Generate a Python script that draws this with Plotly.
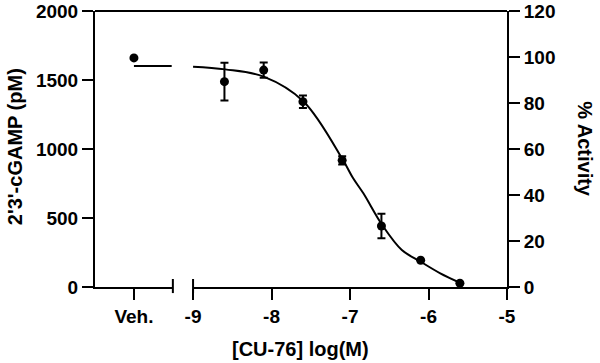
import plotly.graph_objects as go

# ---- data ----
veh_x = [0]
veh_y = [1660]
veh_line_x = [0, 0.97]
veh_line_y = [1601, 1601]

dose_log = [-8.6, -8.1, -7.6, -7.1, -6.6, -6.1, -5.6]
cgamp = [1488, 1572, 1343, 918, 442, 194, 27]
cgamp_err = [137, 55, 45, 30, 88, 0, 0]

fit_x = [-9.0, -8.59, -8.10, -7.59, -7.09, -6.96, -6.83, -6.59, -6.34, -6.10, -5.85, -5.60]
fit_y = [1596, 1577, 1524, 1343, 920, 788, 679, 449, 268, 183, 99, 31]

xticks2 = [-9, -8, -7, -6, -5]
yticks_left = [0, 500, 1000, 1500, 2000]
yticks_right = [0, 20, 40, 60, 80, 100, 120]

FONT = "Arial, Liberation Sans, Helvetica, sans-serif"
tickfont = dict(family=FONT, size=19, color="black", weight="bold")
titlefont = dict(family=FONT, size=20, color="black", weight="bold")

d1 = [0, 0.189]
d2 = [0.238, 1]

fig = go.Figure()

fig.add_trace(go.Scatter(x=veh_line_x, y=veh_line_y, xaxis="x", yaxis="y",
                         mode="lines", line=dict(color="black", width=2),
                         showlegend=False, hoverinfo="skip"))
fig.add_trace(go.Scatter(x=veh_x, y=veh_y, xaxis="x", yaxis="y", mode="markers",
                         marker=dict(color="black", size=9), showlegend=False))

fig.add_trace(go.Scatter(x=fit_x, y=fit_y, xaxis="x2", yaxis="y", mode="lines",
                         line=dict(color="black", width=2, shape="spline", smoothing=1.0),
                         showlegend=False, hoverinfo="skip"))
fig.add_trace(go.Scatter(x=dose_log, y=cgamp, xaxis="x2", yaxis="y", mode="markers",
                         marker=dict(color="black", size=9),
                         error_y=dict(type="data", array=cgamp_err, visible=True,
                                      color="black", thickness=2, width=4),
                         showlegend=False))
# empty trace so the right (% Activity) axis is drawn
fig.add_trace(go.Scatter(x=[None], y=[None], xaxis="x2", yaxis="y2", mode="markers",
                         showlegend=False, hoverinfo="skip"))

axis_common = dict(showline=True, linecolor="black", linewidth=2, ticks="outside",
                   tickcolor="black", tickwidth=2, ticklen=11, showgrid=False,
                   zeroline=False, tickfont=tickfont, automargin=False, fixedrange=True)

fig.update_layout(
    width=600, height=363,
    margin=dict(l=95, r=93, t=11, b=76),
    paper_bgcolor="white", plot_bgcolor="white",
    xaxis=dict(domain=d1, range=[-1, 1], tickvals=[0], ticktext=["Veh."],
               anchor="y", **axis_common),
    xaxis2=dict(domain=d2, range=[-9, -5], tickvals=xticks2,
                ticktext=[str(v) for v in xticks2], anchor="y", **axis_common),
    yaxis=dict(range=[0, 2000], tickvals=yticks_left, anchor="x", **axis_common),
    yaxis2=dict(range=[0, 120], tickvals=yticks_right, overlaying="y", side="right",
                anchor="x2", **axis_common),
)

# top border line and axis-break caps
fig.add_shape(type="line", xref="paper", yref="paper", x0=0, x1=1, y0=1, y1=1,
              line=dict(color="black", width=2))
for xc in [d1[1], d2[0]]:
    fig.add_shape(type="line", xref="paper", yref="paper", x0=xc, x1=xc,
                  y0=-0.022, y1=0.029, line=dict(color="black", width=2))

fig.add_annotation(text="[CU-76] log(M)", xref="paper", yref="paper", x=0.4976, y=-0.2246,
                   showarrow=False, font=titlefont, xanchor="center", yanchor="middle")
fig.add_annotation(text="2'3'-cGAMP (pM)", xref="paper", yref="paper", x=-0.194, y=0.507,
                   showarrow=False, font=titlefont, textangle=-90,
                   xanchor="center", yanchor="middle")
fig.add_annotation(text="% Activity", xref="paper", yref="paper", x=1.189, y=0.5,
                   showarrow=False, font=titlefont, textangle=90,
                   xanchor="center", yanchor="middle")

fig.write_html("out.html", config={"displayModeBar": False},
               post_script="document.body.style.margin='0';")
